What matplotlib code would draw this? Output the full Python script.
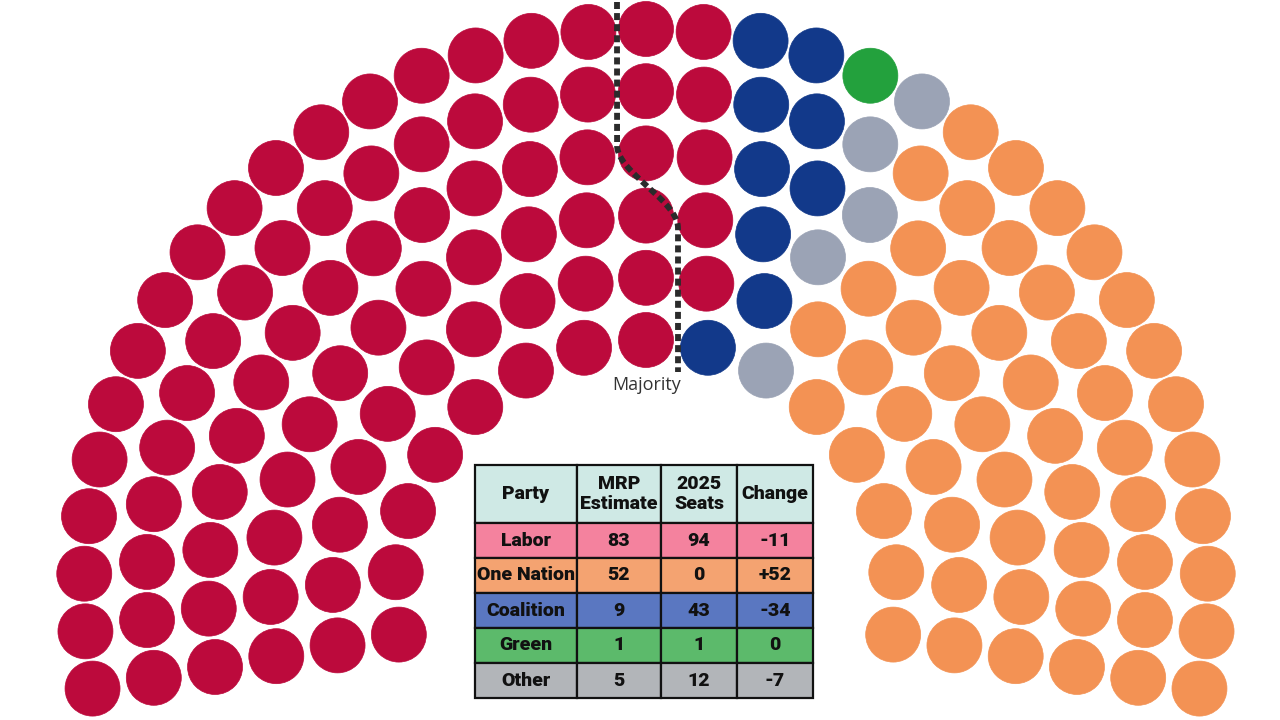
import numpy as np
import matplotlib.pyplot as plt
from matplotlib.patches import Circle

# seat estimates (MRP) and last election
parties = ["Labor", "One Nation", "Coalition", "Green", "Other"]
mrp_seats = [83, 52, 9, 1, 5]
seats_2025 = [94, 0, 43, 1, 12]

# order the parties sit in, left to right
seat_order = ["Labor", "Coalition", "Green", "Other", "One Nation"]

seat_colors = {"Labor": "#bc0a3c", "One Nation": "#f39254", "Coalition": "#12398a",
               "Green": "#23a13d", "Other": "#9ba3b5"}
row_colors = {"Labor": "#f4829e", "One Nation": "#f4a371", "Coalition": "#5a77c1",
              "Green": "#5cba6b", "Other": "#b2b5b9"}
header_color = "#cfe9e5"


def hemicycle(n_total, n_rows=6, r_in=251, r_out=562, a_start=190.0, a_end=-10.0):
    radii = np.linspace(r_in, r_out, n_rows)
    counts = np.round(n_total * radii / radii.sum()).astype(int)
    counts[-1] += n_total - counts.sum()
    seats = []
    for r, n in zip(radii, counts):
        for a in np.linspace(a_start, a_end, n):
            seats.append((round(a, 6), r))
    # sort by angle (left to right), inner rows first on ties
    seats.sort(key=lambda s: (-s[0], s[1]))
    return seats


def fmt_change(d):
    return "0" if d == 0 else f"{d:+d}"


fig = plt.figure(figsize=(12.8, 7.2), dpi=100)
ax = fig.add_axes([0, 0, 1, 1])
ax.set_xlim(0, 1280)
ax.set_ylim(720, 0)
ax.axis("off")

cx, cy = 646, 591
total = sum(mrp_seats)
seats = hemicycle(total)

colors = []
for p in seat_order:
    colors += [seat_colors[p]] * mrp_seats[parties.index(p)]

for (a, r), c in zip(seats, colors):
    t = np.radians(a)
    ax.add_patch(Circle((cx + r * np.cos(t), cy - r * np.sin(t)), 27.5,
                        facecolor=c, edgecolor=c, linewidth=0.5))

# majority line, runs between the seat columns near the top
x_top, x_bot = cx - 29, cx + 32
ys = np.linspace(2, 372, 400)
tt = np.clip((ys - 145) / (228 - 145), 0, 1)
xs = x_top + (x_bot - x_top) * tt * tt * (3 - 2 * tt)
ax.plot(xs, ys, color="#2b2b2b", lw=4.2, linestyle=(0, (1.2, 0.7)),
        solid_capstyle="butt", dash_capstyle="butt")
ax.text(cx + 1, 385, "Majority", ha="center", va="center", fontsize=13,
        color="#333333", family="Open Sans")

# table
header = ["Party", "MRP\nEstimate", "2025\nSeats", "Change"]
cells = [[p, str(m), str(s), fmt_change(m - s)]
         for p, m, s in zip(parties, mrp_seats, seats_2025)]
cell_colours = [[row_colors[p]] * 4 for p in parties]

tb = ax.table(cellText=cells, colLabels=header, cellColours=cell_colours,
              colColours=[header_color] * 4, colWidths=[102, 84, 76, 76],
              cellLoc="center",
              bbox=[475 / 1280, 1 - 698 / 720, 338 / 1280, 233 / 720])
tb.auto_set_font_size(False)
for (r, c), cell in tb.get_celld().items():
    cell.set_edgecolor("#111111")
    cell.set_linewidth(1.6)
    cell.set_height(58 if r == 0 else 35)
    txt = cell.get_text()
    txt.set_family(["Roboto", "DejaVu Sans"])
    txt.set_fontweight("heavy")
    txt.set_fontsize(14)
    txt.set_color("#111111")
    txt.set_linespacing(1.1)

fig.savefig("out.png", dpi=100, facecolor="white")
